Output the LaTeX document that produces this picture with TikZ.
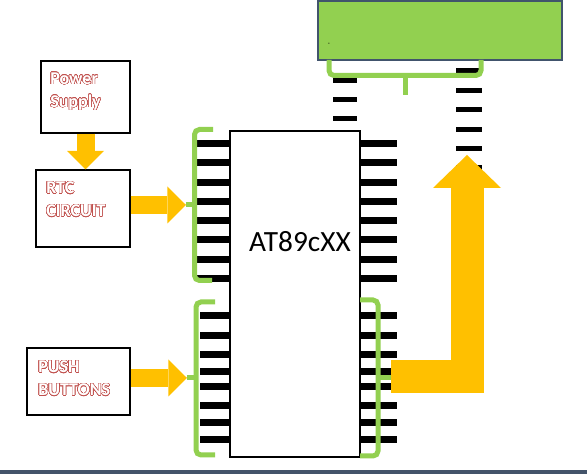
\documentclass[tikz,border=0pt]{standalone}
\usepackage{fontspec}
\setmainfont{Carlito}
\usepackage{contour}
\usetikzlibrary{arrows.meta}
\definecolor{boxred}{HTML}{C0504D}
\definecolor{arrowyellow}{HTML}{FFC000}
\definecolor{brgreen}{HTML}{92D050}
\definecolor{lcdedge}{HTML}{41546C}
\definecolor{bandblue}{HTML}{44546A}
\newdimen\px \px=0.75pt
\contourlength{0.35pt}
\contournumber{32}
\newcommand{\outlined}[1]{\contour{boxred}{\textcolor{white}{#1}}}
\tikzset{
  blockbox/.style={draw=black, line width=1.4\px, inner sep=0pt},
  boxtext/.style={anchor=north west, inner sep=0pt, align=left, font=\fontsize{13.5}{17.25}\selectfont\bfseries},
  chipbox/.style={draw=black, fill=white, line width=1.5\px, inner sep=0pt, minimum width=130\px, minimum height=326\px},
  lcdbox/.style={draw=lcdedge, fill=brgreen, line width=1.5\px, inner sep=0pt, minimum width=244\px, minimum height=59\px},
  pin/.style={line width=7\px},
  thinpin/.style={line width=5\px},
  bracket/.style={draw=brgreen, line width=5\px, rounded corners=5\px},
  fatarrow/.style={draw=arrowyellow, line width=18\px, -{Triangle[width=27.75pt, length=13.9pt, line width=0pt]}},
  bigarrow/.style={draw=arrowyellow, line width=33\px, miter limit=10, -{Triangle[width=51pt, length=24.75pt, line width=0pt]}},
}

\begin{document}
\begin{tikzpicture}[x=0.75pt,y=0.75pt,yscale=-1,xscale=1]
\useasboundingbox (0,0) rectangle (587,474);

%Shape: bottom band
\fill[bandblue] (0,470.5) rectangle (587,474);

%Shape: display block
\node[lcdbox] (lcd) at (440,30.5) {};
% Text Node
\node[inner sep=0pt, font=\fontsize{5}{6}\selectfont] (dash) at (329,44) {-};

%Shape: display pins
\foreach \y in {81,99.5,118.5}
  \draw[thinpin] (333,\y) -- (357,\y);
\foreach \y in {71,90.4,109.8,129.2,148.6,168}
  \draw[thinpin] (456,\y) -- (482,\y);

%Shape: display bracket
\draw[bracket] (329,60) -- (329,75.5) -- (481,75.5) -- (481,60);
\draw[bracket] (405,75.5) -- (405,95);
\coordinate (lcdin) at (467,155);

%Shape: controller pins
\foreach \k [evaluate=\k as \y using 143.5+19.3*\k] in {0,...,7} {
  \draw[pin] (197,\y) -- (230,\y);
  \draw[pin] (360,\y) -- (397,\y);
}
\foreach \y in {316,336,355,372,387,406,423,440} {
  \draw[pin] (200,\y) -- (230,\y);
  \draw[pin] (360,\y) -- (397,\y);
}

%Shape: controller
\node[chipbox] (chip) at (295,294) {};
% Text Node
\node[anchor=base, inner sep=0pt, font=\fontsize{22}{26}\selectfont] (chipname) at (300,252) {AT89cXX};

%Shape: port brackets
\draw[bracket] (213,129.5) -- (194.5,129.5) -- (194.5,280.5) -- (212,280.5);
\draw[bracket] (194.5,205) -- (186,205);
\coordinate (rtcin) at (186,205);
\draw[bracket] (215,302) -- (196,302) -- (196,455) -- (215,455);
\draw[bracket] (196,378) -- (187,378);
\coordinate (pushin) at (187,378);
\draw[bracket] (360,300) -- (378,300) -- (378,456) -- (360,456);
\draw[bracket] (378,378) -- (397,378);
\coordinate (portout) at (391,377);

%Shape: blocks
\node[blockbox, minimum width=89\px, minimum height=72\px] (power) at (85.5,97) {};
\node[blockbox, minimum width=94\px, minimum height=77\px] (rtc) at (83,208.5) {};
\node[blockbox, minimum width=103\px, minimum height=67\px] (push) at (78.5,381.5) {};

% Text Node
\node[boxtext] (powertext) at (50,72.5) {\outlined{Power}\\\outlined{Supply}};
% Text Node
\node[boxtext] (rtctext) at (46,181.5) {\outlined{RTC}\\\outlined{CIRCUIT}};
% Text Node
\node[boxtext] (pushtext) at (38,360.5) {\outlined{PUSH}\\\outlined{BUTTONS}};

%Shape: block arrows
\draw[fatarrow] (power.south) -- (power.south |- rtc.north);
\draw[fatarrow] (rtc.east |- rtcin) -- (rtcin);
\draw[fatarrow] (push.east |- pushin) -- (pushin);
\draw[bigarrow] (portout) -| (lcdin);

\end{tikzpicture}
\end{document}
